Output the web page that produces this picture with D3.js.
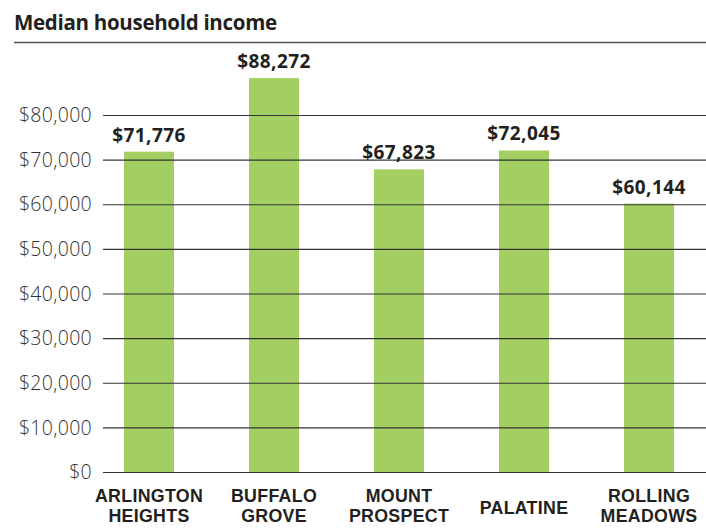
<!DOCTYPE html>
<html>
<head>
<meta charset="utf-8">
<script src="https://cdn.jsdelivr.net/npm/d3@7"></script>
<style>
  body { margin: 0; background: #fff; }
  svg text { font-family: "Open Sans", Lato, sans-serif; fill: #231f20; }
  svg text.cat { font-family: "Liberation Sans", Arial, sans-serif; }
</style>
</head>
<body>
<div id="chart"></div>
<script>
// chart data
var towns = ["ARLINGTON HEIGHTS", "BUFFALO GROVE", "MOUNT PROSPECT", "PALATINE", "ROLLING MEADOWS"];
var townLines = [["ARLINGTON", "HEIGHTS"], ["BUFFALO", "GROVE"], ["MOUNT", "PROSPECT"], ["PALATINE"], ["ROLLING", "MEADOWS"]];
var income = [71776, 88272, 67823, 72045, 60144];
var yTicks = [0, 10000, 20000, 30000, 40000, 50000, 60000, 70000, 80000];

var svgWidth = 706;
var svgHeight = 531;

var svg = d3.select("#chart")
  .append("svg")
  .attr("width", svgWidth)
  .attr("height", svgHeight);

// title + rule
svg.append("text")
  .attr("x", 14)
  .attr("y", 30)
  .style("font-size", "20.5px")
  .style("font-weight", "bold")
  .style("letter-spacing", "-0.3px")
  .text("Median household income");

svg.append("line")
  .attr("x1", 14).attr("x2", 706)
  .attr("y1", 42.5).attr("y2", 42.5)
  .attr("stroke", "#555")
  .attr("stroke-width", 1.5);

var x = d3.scaleBand()
  .domain(towns)
  .range([86.5, 711.5])
  .paddingInner(0.6)
  .paddingOuter(0.3);

var y = d3.scaleLinear()
  .domain([0, 80000])
  .range([472, 115]);

// bars
svg.selectAll("rect.bar")
  .data(income)
  .enter()
  .append("rect")
  .attr("class", "bar")
  .attr("x", (d, i) => x(towns[i]))
  .attr("y", d => y(d))
  .attr("width", x.bandwidth())
  .attr("height", d => y(0) - y(d))
  .attr("fill", "#a3cf62");

// gridlines drawn on top of the bars
var leftAxis = d3.axisLeft(y)
  .tickValues(yTicks)
  .tickSize(-603)
  .tickPadding(11)
  .tickFormat(d => "$" + d3.format(",")(d));

var yAxis = svg.append("g")
  .attr("transform", "translate(103, 0)")
  .call(leftAxis);

yAxis.select(".domain").remove();
yAxis.selectAll(".tick line")
  .attr("stroke", "#333")
  .attr("stroke-width", 1.2);
yAxis.selectAll(".tick text")
  .attr("x", -11)
  .attr("dy", "0.34em")
  .style("font-size", "19.5px")
  .style("font-weight", "300")
  .style("letter-spacing", "0.3px")
  .style("fill", "#333");

// value labels
svg.selectAll("text.value")
  .data(income)
  .enter()
  .append("text")
  .attr("class", "value")
  .attr("x", (d, i) => x(towns[i]) + x.bandwidth() / 2)
  .attr("y", d => y(d) - 10)
  .attr("text-anchor", "middle")
  .style("font-size", "19px")
  .style("font-weight", "bold")
  .style("letter-spacing", "0.4px")
  .text(d => "$" + d3.format(",")(d));

// category labels, one text per line
townLines.forEach(function (lines, i) {
  var cx = x(towns[i]) + x.bandwidth() / 2;
  lines.forEach(function (line, j) {
    svg.append("text")
      .attr("class", "cat")
      .attr("x", cx)
      .attr("y", lines.length === 1 ? 514 : 502 + j * 20)
      .attr("text-anchor", "middle")
      .style("font-size", "17.8px")
      .style("font-weight", "bold")
      .style("letter-spacing", "0.3px")
      .text(line);
  });
});
</script>
</body>
</html>
